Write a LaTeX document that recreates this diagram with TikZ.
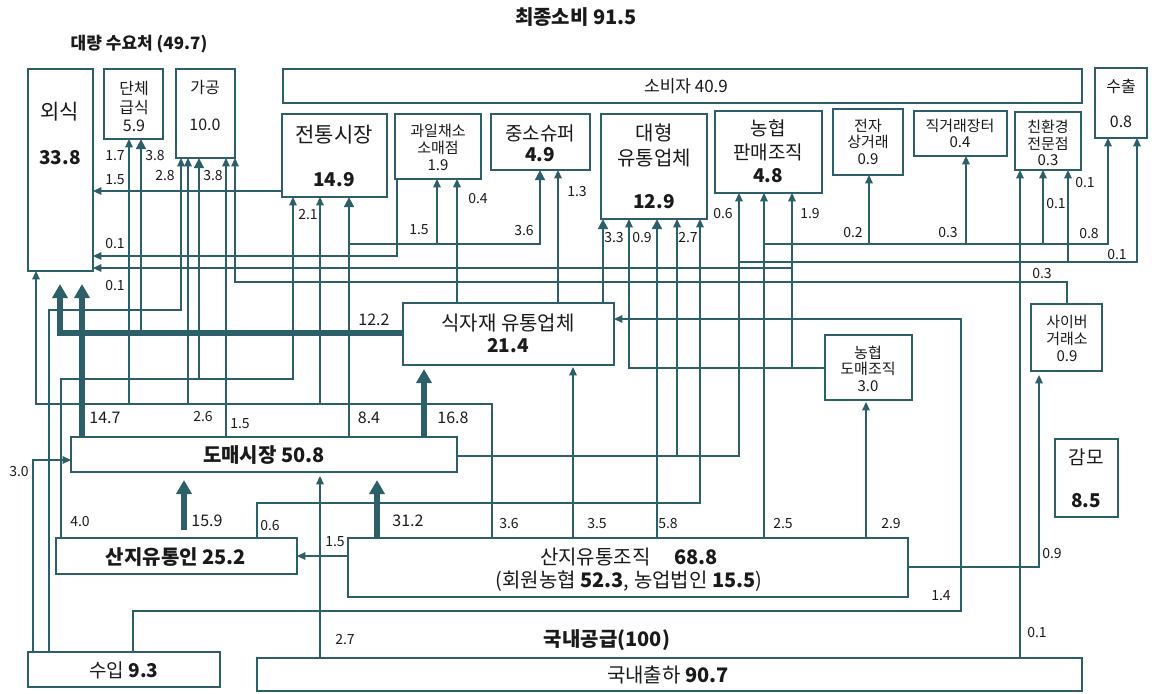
\documentclass[tikz,border=0pt]{standalone}
\usepackage{fontspec}
\setmainfont{Noto Sans CJK KR}
\usetikzlibrary{arrows.meta}
\definecolor{ln}{HTML}{2D5F69}
\definecolor{tx}{HTML}{1A1A1A}
\newcommand\myfs[1]{\fontsize{#1}{#1}\selectfont}
\newcommand\mybox[5]{\node[box,minimum width={0.5pt*(#4-#2)},minimum height={0.5pt*(#5-#3)}] (#1) at (#2,#3) {};}
\newcommand\mytxt[5]{\node[t,font=#4] (#1) at (#2,#3) {#5};}
\newcommand\mylab[4]{\node[lb] (#1) at (#2,#3) {#4};}
\newcommand\mylabb[4]{\node[lbb] (#1) at (#2,#3) {#4};}
\begin{document}
\begin{tikzpicture}[x=0.5pt,y=-0.5pt,
  box/.style={draw=ln,line width=1.3pt,inner sep=0pt,outer sep=0pt,anchor=north west},
  t/.style={text=tx,inner sep=0pt},
  lb/.style={text=tx,inner sep=0pt,font=\myfs{7}},
  lbb/.style={text=tx,inner sep=0pt,font=\myfs{8}},
  tl/.style={draw=ln,line width=0.65pt},
  md/.style={draw=ln,line width=1.4pt},
  tk/.style={draw=ln,line width=2.8pt},
  ar/.style={-{Triangle[length=4.2pt,width=3.8pt]}},
  arm/.style={-{Triangle[length=5pt,width=4.8pt]}},
  ark/.style={-{Triangle[length=7pt,width=7.5pt]}}]
\fill[white] (0,0) rectangle (1152,693);
\useasboundingbox (0,0) rectangle (1152,693);
% boxes
\mybox{oe}{28}{69}{93}{271}
\mybox{dan}{104}{69}{163}{139}
\mybox{ga}{176}{69}{235}{158}
\mybox{sobi}{283}{69}{1082}{103}
\mybox{su}{1095}{68}{1147}{138}
\mybox{jt}{282}{114}{387}{197}
\mybox{gw}{395}{114}{481}{179}
\mybox{jss}{491}{114}{590}{170}
\mybox{dh}{601}{114}{707}{219}
\mybox{nhp}{715}{111}{822}{193}
\mybox{ec}{833}{109}{903}{175}
\mybox{jg}{914}{111}{1007}{156}
\mybox{ch}{1015}{112}{1081}{170}
\mybox{sj}{403}{303}{614}{365}
\mybox{nhd}{825}{335}{912}{400}
\mybox{cy}{1031}{304}{1102}{371}
\mybox{gm}{1055}{439}{1118}{517}
\mybox{dm}{71}{437}{457}{472}
\mybox{sji}{56}{538}{297}{574}
\mybox{sjo}{348}{538}{908}{597}
\mybox{im}{28}{652}{220}{687}
\mybox{kc}{257}{658}{1082}{691}
% texts
\mytxt{title}{576}{17}{\bfseries\myfs{10}}{최종소비 91.5}
\mytxt{dl}{139}{44}{\bfseries\myfs{8.5}}{대량 수요처 (49.7)}
\mytxt{oe1}{60}{112}{\myfs{10.5}}{외식}
\mytxt{oe2}{60}{158}{\bfseries\myfs{9.5}}{33.8}
\mytxt{dan1}{134}{88}{\myfs{8}}{단체}
\mytxt{dan2}{134}{107}{\myfs{8}}{급식}
\mytxt{dan3}{134}{126}{\myfs{8}}{5.9}
\mytxt{ga1}{205}{87}{\myfs{8}}{가공}
\mytxt{ga2}{205}{125}{\myfs{8}}{10.0}
\mytxt{sobi1}{686}{86}{\myfs{8.5}}{소비자 40.9}
\mytxt{su1}{1121}{86}{\myfs{8}}{수출}
\mytxt{su2}{1121}{122}{\myfs{8}}{0.8}
\mytxt{jt1}{334}{135}{\myfs{10.5}}{전통시장}
\mytxt{jt2}{334}{180}{\bfseries\myfs{9.5}}{14.9}
\mytxt{gw1}{438}{131}{\myfs{7.5}}{과일채소}
\mytxt{gw2}{438}{148}{\myfs{7.5}}{소매점}
\mytxt{gw3}{438}{165}{\myfs{7.5}}{1.9}
\mytxt{jss1}{540}{133}{\myfs{9.5}}{중소슈퍼}
\mytxt{jss2}{540}{155}{\bfseries\myfs{9.5}}{4.9}
\mytxt{dh1}{654}{133}{\myfs{10}}{대형}
\mytxt{dh2}{654}{158}{\myfs{10}}{유통업체}
\mytxt{dh3}{654}{202}{\bfseries\myfs{9.5}}{12.9}
\mytxt{nhp1}{768}{128}{\myfs{9.5}}{농협}
\mytxt{nhp2}{768}{152}{\myfs{9.5}}{판매조직}
\mytxt{nhp3}{768}{176}{\bfseries\myfs{9.5}}{4.8}
\mytxt{ec1}{868}{126}{\myfs{7.5}}{전자}
\mytxt{ec2}{868}{142}{\myfs{7.5}}{상거래}
\mytxt{ec3}{868}{159}{\myfs{7.5}}{0.9}
\mytxt{jg1}{960}{126}{\myfs{7.5}}{직거래장터}
\mytxt{jg2}{960}{142}{\myfs{7.5}}{0.4}
\mytxt{ch1}{1048}{127}{\myfs{7.5}}{친환경}
\mytxt{ch2}{1048}{144}{\myfs{7.5}}{전문점}
\mytxt{ch3}{1048}{160}{\myfs{7.5}}{0.3}
\mytxt{sj1}{508}{323}{\myfs{10}}{식자재 유통업체}
\mytxt{sj2}{508}{346}{\bfseries\myfs{9.5}}{21.4}
\mytxt{nhd1}{868}{353}{\myfs{7.5}}{농협}
\mytxt{nhd2}{868}{369}{\myfs{7.5}}{도매조직}
\mytxt{nhd3}{868}{386}{\myfs{7.5}}{3.0}
\mytxt{cy1}{1067}{322}{\myfs{7.5}}{사이버}
\mytxt{cy2}{1067}{339}{\myfs{7.5}}{거래소}
\mytxt{cy3}{1067}{356}{\myfs{7.5}}{0.9}
\mytxt{gm1}{1086}{457}{\myfs{9.5}}{감모}
\mytxt{gm2}{1086}{501}{\bfseries\myfs{9.5}}{8.5}
\mytxt{dm1}{264}{455}{\bfseries\myfs{10}}{도매시장 50.8}
\mytxt{sji1}{176}{557}{\bfseries\myfs{10}}{산지유통인 25.2}
\mytxt{sjo1}{629}{557}{\myfs{10}}{산지유통조직\hspace{1.2em}\textbf{68.8}}
\mytxt{sjo2}{629}{581}{\myfs{10}}{(회원농협 \textbf{52.3}, 농업법인 \textbf{15.5})}
\mytxt{im1}{124}{670}{\myfs{9.5}}{수입 \textbf{9.3}}
\mytxt{kg}{607}{640}{\bfseries\myfs{10}}{국내공급(100)}
\mytxt{kc1}{668}{675}{\myfs{10}}{국내출하 \textbf{90.7}}
% connectors to 외식
\draw[tl,ar] (jt.west |- 0,191) -- (oe.east |- 0,191);
\draw[tl,ar] (397,0 |- gw.south) -- (397,256) -- (oe.east |- 0,256);
\draw[tl,ar] (nhd.west |- 0,368) -- (629,368) -- (629,0 |- dh.south);
\draw[tl,ar] (792,368) -- (792,0 |- nhp.south);
\draw[tl,ar] (792,268) -- (oe.east |- 0,268);
\draw[tk,ark,shorten >=6.5pt] (sj.west |- 0,333) -- (60,333) -- (60,0 |- oe.south);
\draw[md,arm] (141,333) -- (141,0 |- dan.south);
\draw[tk,ark,shorten >=6.5pt] (82,0 |- dm.north) -- (82,0 |- oe.south);
% 3.6 from 산지유통조직
\draw[tl,ar] (492,0 |- sjo.north) -- (492,404) -- (36,404) -- (36,0 |- oe.south);
\draw[tl,ar] (129,404) -- (129,0 |- dan.south);
\draw[tl,ar] (188,404) -- (188,0 |- ga.south);
\draw[tl,ar] (320,404) -- (320,0 |- jt.south);
% 수입
\draw[tl,ar] (49,0 |- im.north) -- (49,310) -- (181,310) -- (181,0 |- ga.south);
\draw[tl,ar] (33,0 |- im.north) -- (33,460) -- (dm.west |- 0,460);
\draw[tl,ar] (133,0 |- im.north) -- (133,611) -- (961,611) -- (961,319) -- (sj.east |- 0,319);
% 산지유통인
\draw[tl,ar] (61,0 |- sji.north) -- (61,379) -- (293,379) -- (293,0 |- jt.south);
\draw[md,arm] (199,379) -- (199,0 |- ga.south);
\draw[tl,ar] (257,0 |- sji.north) -- (257,503) -- (700,503) -- (700,0 |- dh.south);
\draw[tk,ark,shorten <=4pt,shorten >=4pt] (184,0 |- sji.north) -- (184,0 |- dm.south);
% 도매시장
\draw[tl,ar] (226,0 |- dm.north) -- (226,0 |- ga.south);
\draw[md,arm] (349,0 |- dm.north) -- (349,0 |- jt.south);
\draw[md,arm] (349,244) -- (540,244) -- (540,0 |- jss.south);
\draw[tl,ar] (437,244) -- (437,0 |- gw.south);
\draw[tk,ark,shorten >=2pt] (424,0 |- dm.north) -- (424,0 |- sj.south);
\draw[tl,ar] (dm.east |- 0,456) -- (739,456) -- (739,0 |- nhp.south);
\draw[tl,ar] (677,456) -- (677,0 |- dh.south);
\draw[tl,ar] (739,262) -- (1137,262) -- (1137,0 |- su.south);
\draw[tl,ar] (1068,262) -- (1068,0 |- ch.south);
% 사이버거래소 -> 가공
\draw[tl,ar] (1067,0 |- cy.north) -- (1067,282) -- (235,282) -- (235,0 |- ga.south);
% 식자재 up
\draw[tl,ar] (457,0 |- sj.north) -- (457,0 |- gw.south);
\draw[tl,ar] (558,0 |- sj.north) -- (558,0 |- jss.south);
\draw[md,arm] (603,0 |- sj.north) -- (603,0 |- dh.south);
% 산지유통조직 up
\draw[tl,ar,shorten >=1pt] (573,0 |- sjo.north) -- (573,0 |- sj.south);
\draw[md,arm] (657,0 |- sjo.north) -- (657,0 |- dh.south);
\draw[tl,ar] (764,0 |- sjo.north) -- (764,0 |- nhp.south);
\draw[tl,ar] (764,244) -- (1108,244) -- (1108,0 |- su.south);
\draw[tl,ar] (869,244) -- (869,0 |- ec.south);
\draw[tl,ar] (966,244) -- (966,0 |- jg.south);
\draw[tl,ar] (1043,244) -- (1043,0 |- ch.south);
\draw[tl,ar,shorten >=1pt] (866,0 |- sjo.north) -- (866,0 |- nhd.south);
\draw[tk,ark,shorten >=4pt] (377,0 |- sjo.north) -- (377,0 |- dm.south);
\draw[tl,ar] (sjo.west |- 0,556) -- (sji.east |- 0,556);
\draw[tl,ar,shorten >=2pt] (sjo.east |- 0,567) -- (1039,567) -- (1039,0 |- cy.south);
% 국내출하
\draw[tl,ar,shorten >=2pt] (320,0 |- kc.north) -- (320,0 |- dm.south);
\draw[tl,ar] (1020,0 |- kc.north) -- (1020,0 |- ch.south);
% flow labels
\mylab{a1}{115}{156}{1.7}
\mylab{a2}{155}{155}{3.8}
\mylab{a3}{165}{175}{2.8}
\mylab{a4}{213}{175}{3.8}
\mylab{a5}{115}{180}{1.5}
\mylab{a6}{115}{243}{0.1}
\mylab{a7}{115}{285}{0.1}
\mylab{a8}{308}{214}{2.1}
\mylab{a9}{419}{230}{1.5}
\mylab{a10}{478}{198}{0.4}
\mylab{a11}{524}{230}{3.6}
\mylab{a12}{577}{191}{1.3}
\mylab{a13}{614}{237}{3.3}
\mylab{a14}{642}{237}{0.9}
\mylab{a15}{688}{237}{2.7}
\mylab{a16}{723}{213}{0.6}
\mylab{a17}{810}{213}{1.9}
\mylab{a18}{853}{232}{0.2}
\mylab{a19}{948}{232}{0.3}
\mylab{a20}{1085}{182}{0.1}
\mylab{a21}{1056}{203}{0.1}
\mylab{a22}{1089}{233}{0.8}
\mylab{a23}{1117}{254}{0.1}
\mylab{a24}{1042}{273}{0.3}
\mylabb{a25}{374}{320}{12.2}
\mylabb{a26}{105}{418}{14.7}
\mylab{a27}{203}{416}{2.6}
\mylab{a28}{240}{424}{1.5}
\mylabb{a29}{369}{418}{8.4}
\mylabb{a30}{453}{418}{16.8}
\mylab{a31}{19}{471}{3.0}
\mylab{a32}{80}{521}{4.0}
\mylabb{a33}{207}{521}{15.9}
\mylab{a34}{270}{525}{0.6}
\mylabb{a35}{408}{521}{31.2}
\mylab{a36}{335}{542}{1.5}
\mylab{a37}{509}{523}{3.6}
\mylab{a38}{597}{523}{3.5}
\mylab{a39}{668}{523}{5.8}
\mylab{a40}{783}{523}{2.5}
\mylab{a41}{891}{523}{2.9}
\mylab{a42}{941}{596}{1.4}
\mylab{a43}{1052}{553}{0.9}
\mylab{a44}{345}{639}{2.7}
\mylab{a45}{1037}{632}{0.1}
\end{tikzpicture}
\end{document}
